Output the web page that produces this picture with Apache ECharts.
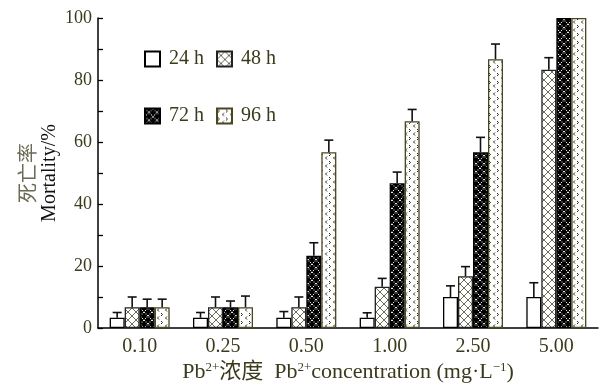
<!DOCTYPE html>
<html>
<head>
<meta charset="utf-8">
<script src="https://cdn.jsdelivr.net/npm/echarts@6/dist/echarts.min.js"></script>
<style>
  html, body { margin: 0; padding: 0; background: #fff; }
  #chart { width: 601px; height: 385px; }
</style>
</head>
<body>
<div id="chart"></div>
<script>
// concentrations (mg/L)
var categories = ['0.10', '0.25', '0.50', '1.00', '2.50', '5.00'];
var seriesNames = ['24 h', '48 h', '72 h', '96 h'];

// mean mortality (%)
var mort24 = [3.3, 3.3, 3.3, 3.3, 10, 10];
var mort48 = [6.7, 6.7, 6.7, 13.3, 16.7, 83.3];
var mort72 = [6.7, 6.7, 23.3, 46.7, 56.7, 100];
var mort96 = [6.7, 6.7, 56.7, 66.7, 86.7, 100];

// standard error (%)
var err24 = [1.7, 1.7, 2.0, 1.6, 3.6, 4.6];
var err48 = [3.3, 3.3, 3.3, 2.7, 3.1, 3.9];
var err72 = [2.6, 2.0, 4.2, 3.6, 4.8, 0];
var err96 = [2.6, 3.6, 3.9, 3.8, 4.9, 0];

var yTicks = [0, 20, 40, 60, 80, 100];

var textColor = '#3b3a1c';
var serif = '"Liberation Serif", "Times New Roman", "Noto Sans CJK SC", serif';

function makeTile(draw) {
  var c = document.createElement('canvas');
  c.width = 8; c.height = 8;
  var ctx = c.getContext('2d');
  draw(ctx);
  return c;
}

var lattice48 = makeTile(function (ctx) {
  ctx.fillStyle = '#fff';
  ctx.fillRect(0, 0, 8, 8);
  ctx.strokeStyle = '#6e6c55';
  ctx.lineWidth = 1;
  ctx.beginPath();
  ctx.moveTo(0, 0); ctx.lineTo(8, 8);
  ctx.moveTo(8, 0); ctx.lineTo(0, 8);
  ctx.stroke();
});

var lattice72 = makeTile(function (ctx) {
  ctx.fillStyle = '#000';
  ctx.fillRect(0, 0, 8, 8);
  ctx.fillStyle = '#e8e8e0';
  for (var i = 0; i < 8; i += 1.5) {
    ctx.fillRect(i, i, 1, 1);
    ctx.fillRect(7 - i, i, 1, 1);
  }
});

var dots96 = makeTile(function (ctx) {
  ctx.fillStyle = '#fff';
  ctx.fillRect(0, 0, 8, 8);
  ctx.strokeStyle = '#2a2a10';
  ctx.lineWidth = 1;
  ctx.beginPath();
  ctx.moveTo(1, 1); ctx.lineTo(2.5, 2.5); ctx.lineTo(1, 4);
  ctx.moveTo(7, 4.5); ctx.lineTo(5.5, 6); ctx.lineTo(7, 7.5);
  ctx.stroke();
});

var means = [mort24, mort48, mort72, mort96];
var errs = [err24, err48, err72, err96];
var fills = [
  '#ffffff',
  { image: lattice48, repeat: 'repeat' },
  { image: lattice72, repeat: 'repeat' },
  { image: dots96, repeat: 'repeat' }
];
var borders = ['#000', '#222', '#000', '#4a4620'];

var series = [];
seriesNames.forEach(function (name, s) {
  series.push({
    name: name,
    type: 'bar',
    barWidth: 15,
    barGap: 0,
    data: means[s],
    itemStyle: { color: fills[s], borderColor: borders[s], borderWidth: 1.3 }
  });
});

var errData = [];
for (var s = 0; s < 4; s++) {
  for (var i = 0; i < categories.length; i++) {
    if (errs[s][i] > 0) errData.push([i, means[s][i], means[s][i] + errs[s][i], s]);
  }
}

series.push({
  type: 'custom',
  z: 10,
  silent: true,
  data: errData,
  renderItem: function (params, api) {
    var cat = api.value(0);
    var s = api.value(3);
    var base = api.coord([cat, api.value(1)]);
    var top = api.coord([cat, api.value(2)]);
    var x = base[0] + (s - 1.5) * 15;
    var style = { stroke: '#111', lineWidth: 1.6 };
    return {
      type: 'group',
      children: [
        { type: 'line', shape: { x1: x, y1: base[1], x2: x, y2: top[1] }, style: style },
        { type: 'line', shape: { x1: x - 4.5, y1: top[1], x2: x + 4.5, y2: top[1] }, style: style }
      ]
    };
  }
});

var legendBase = {
  left: 144,
  padding: 0,
  orient: 'horizontal',
  icon: 'rect',
  itemWidth: 15,
  itemHeight: 15,
  itemGap: 12,
  textStyle: { fontFamily: serif, fontSize: 20, color: textColor, padding: [0, 0, 0, 4] }
};

var chart = echarts.init(document.getElementById('chart'));
chart.setOption({
  animation: false,
  backgroundColor: '#fff',
  grid: { left: 98, right: 3, top: 18, bottom: 57, outerBoundsMode: 'none' },
  legend: [
    Object.assign({}, legendBase, { top: 49, data: ['24 h', '48 h'] }),
    Object.assign({}, legendBase, { top: 106, data: ['72 h', '96 h'] })
  ],
  xAxis: {
    type: 'category',
    data: categories,
    axisLine: { lineStyle: { color: '#000', width: 1.5 } },
    axisTick: { inside: true, length: 5, lineStyle: { color: '#000', width: 1.3 } },
    axisLabel: { fontFamily: serif, fontSize: 20, color: textColor, margin: 9 },
    name: '{n|Pb}{s|2+}{n|浓度  Pb}{s|2+}{n|concentration (mg·L}{s|−1}{n|)}',
    nameLocation: 'middle',
    nameGap: 33,
    nameMoveOverlap: false,
    nameTextStyle: {
      rich: {
        n: { fontFamily: serif, fontSize: 22, color: textColor },
        s: { fontFamily: serif, fontSize: 13, color: textColor, verticalAlign: 'top', padding: [0, 0, 9, 0] }
      }
    }
  },
  yAxis: {
    type: 'value',
    min: 0,
    max: 100,
    interval: 10,
    splitLine: { show: false },
    axisLine: { show: true, lineStyle: { color: '#000', width: 1.5 } },
    axisTick: { show: true, inside: true, length: 5, lineStyle: { color: '#000', width: 1.3 } },
    axisLabel: {
      fontFamily: serif, fontSize: 18, color: textColor, margin: 6,
      formatter: function (v) { return yTicks.indexOf(v) >= 0 ? String(v) : ''; }
    },
    name: '{a|死亡率}\n{b|Mortality/%}',
    nameLocation: 'middle',
    nameRotate: 90,
    nameGap: 38,
    nameMoveOverlap: false,
    nameTextStyle: {
      rich: {
        a: { fontFamily: serif, fontSize: 20, color: '#6b6a55', lineHeight: 20 },
        b: { fontFamily: serif, fontSize: 20, color: '#111', lineHeight: 20 }
      }
    }
  },
  series: series
});
</script>
</body>
</html>
